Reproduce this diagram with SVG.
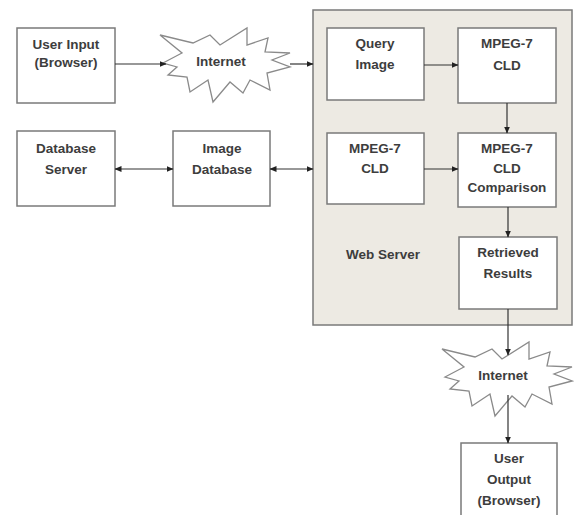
<svg xmlns="http://www.w3.org/2000/svg" width="574" height="515" viewBox="0 0 574 515">
<style>
.box{fill:#fff;stroke:#7a7a7a;stroke-width:1.5}
.ws{fill:#edeae3;stroke:#7a7a7a;stroke-width:1.5}
.burst{fill:#fff;stroke:#8a8a8a;stroke-width:1.3}
.t{font-family:"Liberation Sans",Arial,sans-serif;font-weight:bold;font-size:13.5px;fill:#3d3d3d;text-anchor:middle}
.c{stroke:#333;stroke-width:1.2;fill:none}
</style>
<defs>
<marker id="ah" markerWidth="7" markerHeight="6" refX="6.5" refY="3" orient="auto" markerUnits="userSpaceOnUse">
<path d="M0,0 L7,3 L0,6 z" fill="#222"/>
</marker>
<marker id="as" markerWidth="7" markerHeight="6" refX="0.5" refY="3" orient="auto" markerUnits="userSpaceOnUse">
<path d="M7,0 L0,3 L7,6 z" fill="#222"/>
</marker>
<polygon id="star" points="160,35 193,43 210,35 220,45 247,28 247,45 268,38 265,52 290,53 272,60 290,67 267,73 270,90 250,80 243,93 230,82 213,102 208,80 190,92 187,77 168,75 177,67 163,63 182,53"/>
</defs>

<g id="web-server">
<rect class="ws" x="313" y="10" width="259" height="315"/>
<text class="t" x="383" y="259">Web Server</text>
</g>

<g id="user-input">
<rect class="box" x="17" y="28" width="98" height="75"/>
<text class="t" x="66" y="49">User Input</text>
<text class="t" x="66" y="67">(Browser)</text>
</g>

<g id="internet-1">
<use href="#star" class="burst"/>
<text class="t" x="221" y="66">Internet</text>
</g>

<g id="query-image">
<rect class="box" x="327" y="28" width="97" height="72"/>
<text class="t" x="375" y="48">Query</text>
<text class="t" x="375" y="69">Image</text>
</g>

<g id="mpeg7-cld-top">
<rect class="box" x="458" y="28" width="98" height="75"/>
<text class="t" x="507" y="48">MPEG-7</text>
<text class="t" x="507" y="70">CLD</text>
</g>

<g id="database-server">
<rect class="box" x="17" y="131" width="98" height="75"/>
<text class="t" x="66" y="153">Database</text>
<text class="t" x="66" y="174">Server</text>
</g>

<g id="image-database">
<rect class="box" x="173" y="131" width="97" height="75"/>
<text class="t" x="222" y="153">Image</text>
<text class="t" x="222" y="174">Database</text>
</g>

<g id="mpeg7-cld-bottom">
<rect class="box" x="327" y="133" width="97" height="71"/>
<text class="t" x="375" y="153">MPEG-7</text>
<text class="t" x="375" y="173">CLD</text>
</g>

<g id="mpeg7-comparison">
<rect class="box" x="458" y="133" width="98" height="74"/>
<text class="t" x="507" y="153">MPEG-7</text>
<text class="t" x="507" y="173">CLD</text>
<text class="t" x="507" y="192">Comparison</text>
</g>

<g id="retrieved-results">
<rect class="box" x="459" y="237" width="98" height="72"/>
<text class="t" x="508" y="257">Retrieved</text>
<text class="t" x="508" y="278">Results</text>
</g>

<g id="internet-2">
<use href="#star" class="burst" transform="translate(282,314)"/>
<text class="t" x="503" y="380">Internet</text>
</g>

<g id="user-output">
<rect class="box" x="461" y="443" width="96" height="80"/>
<text class="t" x="509" y="463">User</text>
<text class="t" x="509" y="484">Output</text>
<text class="t" x="509" y="505">(Browser)</text>
</g>

<g id="connectors">
<line class="c" x1="115" y1="64" x2="166" y2="64" marker-end="url(#ah)"/>
<line class="c" x1="290" y1="64" x2="313" y2="64" marker-end="url(#ah)"/>
<line class="c" x1="424" y1="65" x2="458" y2="65" marker-end="url(#ah)"/>
<line class="c" x1="507" y1="103" x2="507" y2="133" marker-end="url(#ah)"/>
<line class="c" x1="115" y1="169" x2="173" y2="169" marker-start="url(#as)" marker-end="url(#ah)"/>
<line class="c" x1="270" y1="169" x2="313" y2="169" marker-start="url(#as)" marker-end="url(#ah)"/>
<line class="c" x1="424" y1="169" x2="458" y2="169" marker-end="url(#ah)"/>
<line class="c" x1="508" y1="207" x2="508" y2="237" marker-end="url(#ah)"/>
<line class="c" x1="508" y1="309" x2="508" y2="355" marker-end="url(#ah)"/>
<line class="c" x1="508" y1="395" x2="508" y2="443" marker-end="url(#ah)"/>
</g>
</svg>
